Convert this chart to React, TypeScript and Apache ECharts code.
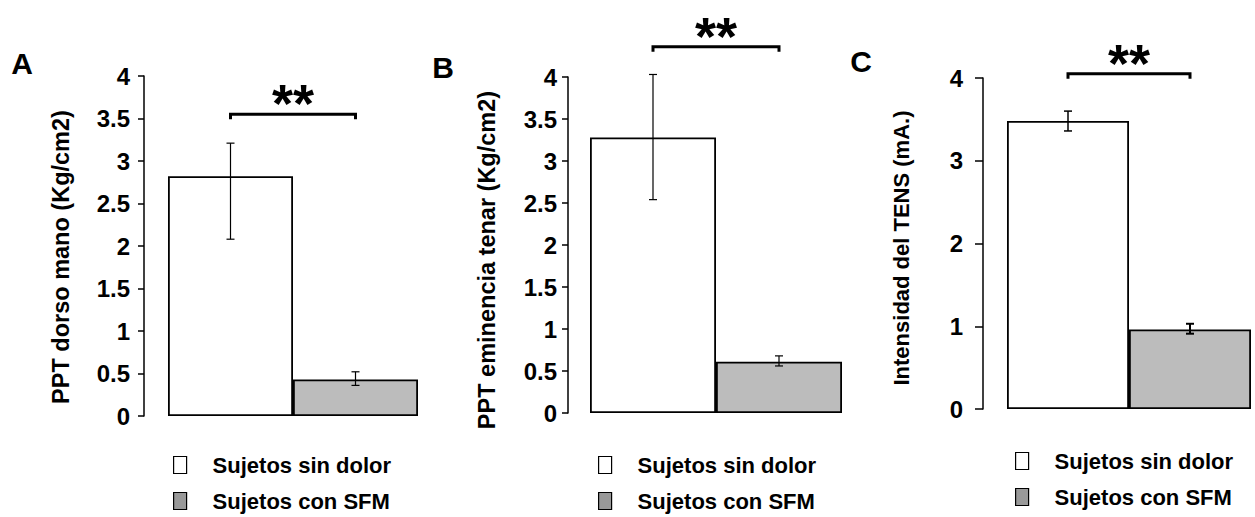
import React, { useEffect, useRef } from "react";
import * as echarts from "echarts";

const categories = ["Sujetos sin dolor", "Sujetos con SFM"];
const panelLabels = ["A", "B", "C"];
const yTitles = [
  "PPT dorso mano (Kg/cm2)",
  "PPT eminencia tenar (Kg/cm2)",
  "Intensidad del TENS (mA.)",
];
const sinDolor = [2.82, 3.28, 3.48];
const sinDolorLow = [2.08, 2.54, 3.36];
const sinDolorHigh = [3.21, 4.03, 3.6];
const conSFM = [0.43, 0.61, 0.96];
const conSFMLow = [0.36, 0.56, 0.91];
const conSFMHigh = [0.52, 0.68, 1.03];
const bracketLevels = [3.55, 4.36, 4.05];
const significance = ["**", "**", "**"];
const yMax = [4, 4, 4];
const yIntervals = [0.5, 0.5, 1];

const FONT = "'Liberation Sans', Arial, Helvetica, sans-serif";

// layout (pixels)
const grids = [
  { left: 144, top: 76, width: 298, height: 340, offset: 0, barWidth: 125, legendLeft: 173, legendTops: [454, 490], tickLen: 6, labelMargin: 14, titleX: 61, titleY: 257, titleSize: 23.5, labelX: 22, labelY: 63 },
  { left: 568, top: 77, width: 296, height: 336, offset: 0, barWidth: 126, legendLeft: 598, legendTops: [454, 490], tickLen: 6, labelMargin: 11, titleX: 487, titleY: 260, titleSize: 23.5, labelX: 443, labelY: 67 },
  { left: 1007, top: 78, width: 244, height: 331, offset: 24, barWidth: 122, legendLeft: 1015, legendTops: [450, 486], tickLen: 8, labelMargin: 20, titleX: 901, titleY: 248, titleSize: 22, labelX: 861, labelY: 61 },
];

export default function App() {
  const ref = useRef<HTMLDivElement>(null);
  useEffect(() => {
    document.body.style.margin = "0";
    if (!ref.current) return;
    const chart = echarts.init(ref.current, null, { renderer: "svg" });

    const grid: any[] = [];
    const xAxis: any[] = [];
    const yAxis: any[] = [];
    const series: any[] = [];
    const legend: any[] = [];
    const graphic: any[] = [];
    const legendColors = ["#ffffff", "#999999"];

    grids.forEach((g, i) => {
      grid.push({ left: g.left, top: g.top, width: g.width, height: g.height, containLabel: false });
      xAxis.push({ type: "category", gridIndex: i, data: ["g"], show: false });
      yAxis.push({
        type: "value",
        gridIndex: i,
        min: 0,
        max: yMax[i],
        interval: yIntervals[i],
        offset: g.offset,
        axisLine: { show: true, lineStyle: { color: "#000", width: 1.5 } },
        axisTick: { show: true, length: g.tickLen, lineStyle: { color: "#000", width: 1.5 } },
        axisLabel: { fontFamily: FONT, fontWeight: "bold", fontSize: 24, color: "#000", margin: g.labelMargin },
        splitLine: { show: false },
      });
      series.push({
        type: "bar",
        name: categories[0],
        xAxisIndex: i,
        yAxisIndex: i,
        data: [sinDolor[i]],
        barWidth: g.barWidth,
        barGap: "0%",
        itemStyle: { color: "#ffffff", borderColor: "#000", borderWidth: 1.8 },
        z: 2,
      });
      series.push({
        type: "bar",
        name: categories[1],
        xAxisIndex: i,
        yAxisIndex: i,
        data: [conSFM[i]],
        barWidth: g.barWidth,
        barGap: "0%",
        itemStyle: { color: "#bcbcbc", borderColor: "#000", borderWidth: 1.8 },
        z: 2,
      });
      const errSeries = (low: number, high: number, side: number, lw: number) => ({
        type: "custom",
        xAxisIndex: i,
        yAxisIndex: i,
        clip: false,
        z: 5,
        silent: true,
        encode: { x: 0, y: [1, 2] },
        data: [[0, low, high]],
        renderItem: (params: any, api: any) => {
          const lo = api.coord([api.value(0), api.value(1)]);
          const hi = api.coord([api.value(0), api.value(2)]);
          const x = lo[0] + (side * g.barWidth) / 2;
          const cap = 4;
          const style = { stroke: "#000", lineWidth: lw, fill: null };
          return {
            type: "group",
            children: [
              { type: "line", shape: { x1: x, y1: lo[1], x2: x, y2: hi[1] }, style },
              { type: "line", shape: { x1: x - cap, y1: lo[1], x2: x + cap, y2: lo[1] }, style },
              { type: "line", shape: { x1: x - cap, y1: hi[1], x2: x + cap, y2: hi[1] }, style },
            ],
          };
        },
      });
      series.push(errSeries(sinDolorLow[i], sinDolorHigh[i], -1, i === 2 ? 1.5 : 1.2));
      series.push(errSeries(conSFMLow[i], conSFMHigh[i], 1, i === 2 ? 2 : 1.2));
      series.push({
        type: "custom",
        xAxisIndex: i,
        yAxisIndex: i,
        clip: false,
        silent: true,
        z: 6,
        encode: { x: 0, y: 1 },
        data: [[0, bracketLevels[i]]],
        renderItem: (params: any, api: any) => {
          const c = api.coord([api.value(0), api.value(1)]);
          const x1 = c[0] - g.barWidth / 2;
          const x2 = c[0] + g.barWidth / 2;
          const y = c[1];
          return {
            type: "group",
            children: [
              {
                type: "polyline",
                shape: { points: [[x1, y + 5], [x1, y], [x2, y], [x2, y + 5]] },
                style: { stroke: "#000", lineWidth: 3, fill: null },
              },
              {
                type: "text",
                x: (x1 + x2) / 2,
                y: y - 11,
                style: {
                  text: significance[i],
                  fontFamily: FONT,
                  fontWeight: "bold",
                  fontSize: 54,
                  fill: "#000",
                  align: "center",
                  verticalAlign: "middle",
                },
              },
            ],
          };
        },
      });
      categories.forEach((name, k) => {
        legend.push({
          orient: "vertical",
          left: g.legendLeft,
          top: g.legendTops[k],
          padding: 0,
          itemWidth: 13,
          itemHeight: 17,
          icon: "rect",
          selectedMode: false,
          textStyle: { fontFamily: FONT, fontWeight: "bold", fontSize: 22, color: "#000", padding: [0, 0, 0, 21] },
          data: [{ name, itemStyle: { color: legendColors[k], borderColor: "#000", borderWidth: 1.2 } }],
        });
      });
      graphic.push({
        type: "text",
        x: g.titleX,
        y: g.titleY,
        rotation: Math.PI / 2,
        style: {
          text: yTitles[i],
          fontFamily: FONT,
          fontWeight: "bold",
          fontSize: g.titleSize,
          fill: "#000",
          align: "center",
          verticalAlign: "middle",
        },
      });
      graphic.push({
        type: "text",
        x: g.labelX,
        y: g.labelY,
        style: {
          text: panelLabels[i],
          fontFamily: FONT,
          fontWeight: "bold",
          fontSize: 30,
          fill: "#000",
          align: "center",
          verticalAlign: "middle",
        },
      });
    });

    chart.setOption({
      animation: false,
      backgroundColor: "#ffffff",
      grid,
      xAxis,
      yAxis,
      series,
      legend,
      graphic,
    });
    return () => chart.dispose();
  }, []);
  return <div ref={ref} style={{ width: 1255, height: 517 }} />;
}
